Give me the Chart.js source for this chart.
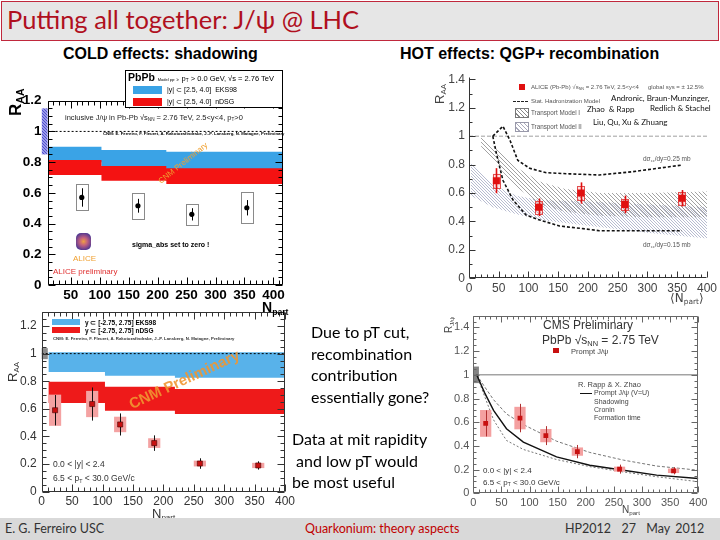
<!DOCTYPE html>
<html>
<head>
<meta charset="utf-8">
<script src="https://cdn.jsdelivr.net/npm/chart.js@4.4.1/dist/chart.umd.min.js"></script>
<style>
body { margin: 0; width: 720px; height: 540px; position: relative; overflow: hidden; background: #fff; font-family: "Liberation Sans", Arial, sans-serif; }
canvas { position: absolute; }
.t { position: absolute; white-space: nowrap; line-height: 1; }
.rot { transform: rotate(-90deg); transform-origin: left top; }
.slide { font-family: Lato, "Open Sans", sans-serif; }
sub { font-size: 0.62em; vertical-align: -0.3em; line-height: 0; }
#title { position: absolute; left: 1px; top: 1px; width: 718px; height: 40px; box-sizing: border-box; border: 1px solid #c0283c; background: #e6e6e6; }
#footer { position: absolute; left: 0; top: 518px; width: 720px; height: 22px; background: #d9d9d9; }
.sw { position: absolute; }
</style>
</head>
<body>
<div id="title"></div>
<div class="t slide" style="left:7px;top:7px;font-size:25.5px;color:#b0101e;">Putting all together: J/ψ @ LHC</div>
<div class="t" style="left:63px;top:45px;font:bold 16px 'Liberation Sans';">COLD effects: shadowing</div>
<div class="t" style="left:400px;top:45px;font:bold 16px 'Liberation Sans';">HOT effects: QGP+ recombination</div>

<canvas id="c1"></canvas>
<canvas id="c2"></canvas>
<canvas id="c3"></canvas>
<canvas id="c4"></canvas>

<!-- panel 1 overlays -->
<div class="sw" style="left:125px;top:70px;width:158px;height:38px;border:1px solid #000;background:#fff;box-sizing:border-box;"></div>
<div class="t" style="left:128px;top:71px;font:bold 10.5px 'Liberation Sans';">PbPb <span style="font:normal 4px 'Liberation Sans';">Model pp: ≥</span> <span style="font:normal 7.5px 'Liberation Sans';">p<sub>T</sub> &gt; 0.0 GeV, √s = 2.76 TeV</span></div>
<div class="sw" style="left:133px;top:86px;width:29px;height:8px;background:#3aa3e6;"></div>
<div class="t" style="left:167px;top:86px;font:7px 'Liberation Sans';">|y| ⊂ [2.5, 4.0]&nbsp; EKS98</div>
<div class="sw" style="left:133px;top:98px;width:29px;height:8px;background:#f01010;"></div>
<div class="t" style="left:167px;top:98px;font:7px 'Liberation Sans';">|y| ⊂ [2.5, 4.0]&nbsp; nDSG</div>
<div class="t" style="left:65px;top:113px;font:7.5px 'Liberation Sans';color:#222;">inclusive J/ψ in Pb-Pb √s<sub>NN</sub> = 2.76 TeV, 2.5&lt;y&lt;4, p<sub>T</sub>&gt;0</div>
<div class="t" style="left:103px;top:131px;font:bold 4.3px 'Liberation Sans';">CNM: E. Ferreiro, F. Fleuret, A. Rakotozafindrabe, J.-P. Lansberg, N. Matagne, Preliminary</div>
<div class="t" style="left:183px;top:163px;font:8px 'Liberation Sans';color:#f0a030;transform:translate(-50%,-50%) rotate(-39deg);">CNM Preliminary</div>
<div class="t" style="left:132px;top:241px;font:bold 7px 'Liberation Sans';">sigma_abs set to zero !</div>
<div class="sw" style="left:76px;top:233px;width:15px;height:17px;border-radius:5px;background:radial-gradient(circle,#f0a040 0,#c06080 35%,#5a3a90 75%,#2a4a9a 100%);"></div>
<div class="t" style="left:73px;top:254px;font:8px 'Liberation Sans';color:#f0a030;">ALICE</div>
<div class="t" style="left:53px;top:267px;font:8px 'Liberation Sans';color:#e03030;">ALICE preliminary</div>
<div class="t rot" style="left:6px;top:116px;font:bold 17px 'Liberation Sans';">R<sub>AA</sub></div>
<div class="t" style="left:262px;top:299px;font:bold 14px 'Liberation Sans';">N<sub>part</sub></div>

<!-- panel 2 overlays -->
<div class="sw" style="left:519px;top:84px;width:6px;height:6px;background:#e01010;"></div>
<div class="t" style="left:531px;top:84px;font:6px 'Liberation Sans';color:#555;">ALICE (Pb-Pb) √s<sub>NN</sub> = 2.76 TeV, 2.5&lt;y&lt;4</div>
<div class="t" style="left:648px;top:84px;font:6px 'Liberation Sans';color:#555;">global sys = ± 12.5%</div>
<div class="sw" style="left:513px;top:101px;width:15px;border-top:1.5px dashed #222;"></div>
<div class="t" style="left:531px;top:98px;font:6px 'Liberation Sans';color:#555;">Stat. Hadronization Model</div>
<div class="sw" style="left:515px;top:108px;width:12px;height:8px;border:1px solid #777;background:repeating-linear-gradient(45deg,#fff 0 2px,#888 2px 3px);"></div>
<div class="t" style="left:531px;top:109px;font:6.3px 'Liberation Sans';color:#555;">Transport Model I</div>
<div class="sw" style="left:515px;top:122px;width:12px;height:8px;border:1px solid #99a;background:repeating-linear-gradient(45deg,#fff 0 2px,#aab 2px 3px);"></div>
<div class="t" style="left:531px;top:123px;font:6.3px 'Liberation Sans';color:#555;">Transport Model II</div>
<div class="t slide" style="left:611px;top:94px;font-size:8px;color:#111;">Andronic, Braun-Munzinger,</div>
<div class="t slide" style="left:650px;top:104px;font-size:8px;color:#111;">Redlich &amp; Stachel</div>
<div class="t slide" style="left:587px;top:105px;font-size:8px;color:#111;">Zhao &nbsp;&amp; Rapp</div>
<div class="t slide" style="left:593px;top:118px;font-size:8px;color:#111;">Liu, Qu, Xu &amp; Zhuang</div>
<div class="t" style="left:643px;top:155px;font:6.5px 'Liberation Sans';color:#555;">dσ<sub>cc</sub>/dy=0.25 mb</div>
<div class="t" style="left:643px;top:241px;font:6.5px 'Liberation Sans';color:#555;">dσ<sub>cc</sub>/dy=0.15 mb</div>
<div class="t rot" style="left:432px;top:104px;font:13px 'Liberation Sans';color:#444;">R<sub>AA</sub></div>
<div class="t" style="left:670px;top:291px;font:12px 'DejaVu Sans';color:#444;">⟨N<sub>part</sub>⟩</div>

<!-- panel 3 overlays -->
<div class="sw" style="left:52px;top:319px;width:28px;height:6px;background:#58b2ea;"></div>
<div class="t" style="left:85px;top:319px;font:bold 6.5px 'Liberation Sans';">y ⊂ [-2.75, 2.75] EKS98</div>
<div class="sw" style="left:52px;top:327px;width:28px;height:6px;background:#ee1a1a;"></div>
<div class="t" style="left:85px;top:327px;font:bold 6.5px 'Liberation Sans';">y ⊂ [-2.75, 2.75] nDSG</div>
<div class="t" style="left:53px;top:336px;font:bold 4.3px 'Liberation Sans';color:#333;">CNM: E. Ferreiro, F. Fleuret, A. Rakotozafindrabe, J.-P. Lansberg, N. Matagne, Preliminary</div>
<div class="t" style="left:184px;top:379px;font:bold 15px 'Liberation Sans';color:rgba(240,150,50,0.9);transform:translate(-50%,-50%) rotate(-25deg);">CNM Preliminary</div>
<div class="t" style="left:53px;top:459px;font:8.5px 'Liberation Sans';color:#333;">0.0 &lt; |y| &lt; 2.4</div>
<div class="t" style="left:53px;top:473px;font:8.5px 'Liberation Sans';color:#333;">6.5 &lt; p<sub>T</sub> &lt; 30.0 GeV/c</div>
<div class="t" style="left:152px;top:506px;font:13px 'Liberation Sans';color:#333;">N<sub>part</sub></div>
<div class="t rot" style="left:5px;top:382px;font:13px 'Liberation Sans';color:#333;">R<sub>AA</sub></div>

<!-- panel 4 overlays -->
<div class="t" style="left:543px;top:318px;font:12px 'Liberation Sans';color:#333;">CMS Preliminary</div>
<div class="t" style="left:542px;top:333px;font:12px 'Liberation Sans';color:#333;">PbPb √s<sub>NN</sub> = 2.75 TeV</div>
<div class="sw" style="left:553px;top:348px;width:6px;height:5px;background:#c81010;"></div>
<div class="t" style="left:571px;top:347px;font:7.5px 'Liberation Sans';color:#444;">Prompt J/ψ</div>
<div class="t" style="left:578px;top:380px;font:7.5px 'Liberation Sans';color:#444;">R. Rapp &amp; X. Zhao</div>
<div class="sw" style="left:580px;top:393px;width:12px;border-top:1.3px solid #111;"></div>
<div class="t" style="left:594px;top:389px;font:7px 'Liberation Sans';color:#444;">Prompt J/ψ (V=U)</div>
<div class="t" style="left:594px;top:398px;font:7px 'Liberation Sans';color:#444;">Shadowing</div>
<div class="t" style="left:594px;top:406px;font:7px 'Liberation Sans';color:#444;">Cronin</div>
<div class="t" style="left:594px;top:414px;font:7px 'Liberation Sans';color:#444;">Formation time</div>
<div class="t" style="left:483px;top:466px;font:8px 'Liberation Sans';color:#333;">0.0 &lt; |y| &lt; 2.4</div>
<div class="t" style="left:483px;top:478px;font:8px 'Liberation Sans';color:#333;">6.5 &lt; p<sub>T</sub> &lt; 30.0 GeV/c</div>
<div class="t" style="left:622px;top:504px;font:10px 'Liberation Sans';color:#444;">N<sub>part</sub></div>
<div class="t rot" style="left:443px;top:333px;font:10px 'Liberation Sans';color:#444;">R<sub>J/ψ</sub></div>

<!-- middle text -->
<div class="t slide" style="left:311px;top:321px;font-size:16px;line-height:21.5px;">Due to pT cut,<br>recombination<br>contribution<br>essentially gone?</div>
<div class="t slide" style="left:292px;top:428px;font-size:16px;line-height:21.5px;">Data at mit rapidity<br>&nbsp;and low pT would<br>be most useful</div>

<div id="footer"></div>
<div class="t slide" style="left:5px;top:523px;font-size:12.5px;color:#333;">E. G. Ferreiro USC</div>
<div class="t slide" style="left:305px;top:523px;font-size:12.5px;color:#c00000;">Quarkonium: theory aspects</div>
<div class="t slide" style="left:565px;top:523px;font-size:12.5px;color:#333;word-spacing:2px;">HP2012&nbsp; 27&nbsp; May 2012</div>

<script>
// ---- top left: ALICE forward J/psi vs CNM shadowing ----
const fwdNpart = [69, 166, 259, 354];
const fwdRaa = [0.57, 0.516, 0.46, 0.503];
const fwdStat = [0.06, 0.045, 0.04, 0.05];
const fwdSys = [0.085, 0.085, 0.068, 0.1];
const fwdBinEdges = [11, 103, 215, 296, 417];
const fwdEksHi = [0.937, 0.90, 0.879, 0.868];
const fwdEksLo = [0.86, 0.80, 0.76, 0.75];
const fwdNdsgHi = [0.879, 0.814, 0.775, 0.76];
const fwdNdsgLo = [0.796, 0.716, 0.679, 0.658];
const fwdGlobal = [0.85, 1.15];

// ---- top right: ALICE vs recombination models ----
const aliceNpart = [46, 117, 188, 262, 358];
const aliceRaa = [0.687, 0.50, 0.60, 0.52, 0.563];
const aliceStat = [0.088, 0.062, 0.075, 0.062, 0.058];
const aliceSys = [0.05, 0.045, 0.05, 0.04, 0.045];
const shmHiNpart = [40, 57, 69, 82, 102, 130, 169, 219, 275, 358];
const shmHi = [1.0, 1.07, 0.97, 0.83, 0.774, 0.743, 0.735, 0.727, 0.75, 0.797];
const shmLoNpart = [40, 46, 57, 74, 96, 119, 152, 186, 219, 358];
const shmLo = [1.0, 0.88, 0.69, 0.551, 0.445, 0.41, 0.368, 0.352, 0.335, 0.335];
const tm1Npart = [20, 50, 80, 120, 160, 220, 300, 400];
const tm1Hi = [0.99, 0.9, 0.78, 0.68, 0.63, 0.6, 0.6, 0.61];
const tm1Lo = [0.93, 0.78, 0.64, 0.52, 0.47, 0.44, 0.43, 0.43];
const tm2Npart = [3, 40, 80, 120, 200, 300, 400];
const tm2Hi = [0.81, 0.66, 0.58, 0.55, 0.54, 0.52, 0.5];
const tm2Lo = [0.58, 0.5, 0.45, 0.41, 0.37, 0.32, 0.28];

// ---- bottom: CMS prompt J/psi, high pT ----
const cmsNpart = [22, 83, 129, 185, 260, 356];
const cmsRaa = [0.59, 0.635, 0.487, 0.352, 0.204, 0.19];
const cmsStat = [0.11, 0.12, 0.08, 0.056, 0.038, 0.03];
const cmsSys = [0.113, 0.095, 0.056, 0.035, 0.021, 0.019];
const cmsGlobal = [0.93, 1.07];
const midBinEdges = [11, 104, 219, 307, 400];
const midEksHi = [1.01, 1.01, 1.01, 1.01];
const midEksLo = [0.915, 0.867, 0.839, 0.825];
const midNdsgHi = [0.855, 0.796, 0.76, 0.744];
const midNdsgLo = [0.737, 0.642, 0.587, 0.563];
const rzNpart = [6, 20, 36, 59, 89, 148, 207, 267, 326, 400];
const rzPrompt = [1.0, 0.85, 0.70, 0.545, 0.432, 0.307, 0.237, 0.195, 0.153, 0.125];
const rzUpper = [1.0, 0.9, 0.79, 0.67, 0.58, 0.44, 0.345, 0.28, 0.23, 0.195];
const rzLower = [1.0, 0.82, 0.62, 0.446, 0.37, 0.285, 0.225, 0.18, 0.14, 0.098];

function pts(xs, ys) {
    return xs.map(function (x, i) { return { x: x, y: ys[i] }; });
}
function stepPts(edges, vals) {
    return edges.map(function (x, i) { return { x: x, y: vals[Math.min(i, vals.length - 1)] }; });
}
function hatch(color, size, bg) {
    const c = document.createElement("canvas");
    c.width = c.height = size;
    const g = c.getContext("2d");
    if (bg) {
        g.fillStyle = bg;
        g.fillRect(0, 0, size, size);
    }
    g.strokeStyle = color;
    g.lineWidth = 0.8;
    g.beginPath();
    g.moveTo(0, 0); g.lineTo(size, size);
    g.moveTo(-1, size - 1); g.lineTo(1, size + 1);
    g.moveTo(size - 1, -1); g.lineTo(size + 1, 1);
    g.stroke();
    return g.createPattern(c, "repeat");
}

// frame + inner ticks + global boxes
const decor = {
    id: "decor",
    beforeDatasetsDraw(chart, args, o) {
        const { ctx, scales: { x, y } } = chart;
        (o.boxes || []).forEach(function (b) {
            const x0 = x.getPixelForValue(b.x[0]), x1 = x.getPixelForValue(b.x[1]);
            const y0 = y.getPixelForValue(b.y[0]), y1 = y.getPixelForValue(b.y[1]);
            ctx.fillStyle = b.fill;
            ctx.fillRect(x0, y1, x1 - x0, y0 - y1);
        });
    },
    afterDraw(chart, args, o) {
        const { ctx, chartArea: a, scales: { x, y } } = chart;
        ctx.save();
        ctx.strokeStyle = o.color || "#000";
        ctx.lineWidth = 1;
        const L = Math.round(a.left) + 0.5, R = Math.round(a.right) - 0.5;
        const T = Math.round(a.top) + 0.5, B = Math.round(a.bottom) - 0.5;
        ctx.beginPath();
        if (o.frame) {
            ctx.rect(L, T, R - L, B - T);
        } else {
            ctx.moveTo(L, T); ctx.lineTo(L, B); ctx.lineTo(R, B);
        }
        const marks = function (scale, step, minor, fn) {
            const s = step / minor;
            for (let k = Math.ceil(scale.min / s - 1e-9); k * s <= scale.max + 1e-9; k++) {
                fn(Math.round(scale.getPixelForValue(k * s)) + 0.5, k % minor === 0 ? o.major : o.minor);
            }
        };
        marks(x, o.xStep, o.xMinor, function (p, len) {
            ctx.moveTo(p, B); ctx.lineTo(p, B - len);
            if (o.frame) { ctx.moveTo(p, T); ctx.lineTo(p, T + len); }
        });
        marks(y, o.yStep, o.yMinor, function (p, len) {
            ctx.moveTo(L, p); ctx.lineTo(L + len, p);
            if (o.frame) { ctx.moveTo(R, p); ctx.lineTo(R - len, p); }
        });
        ctx.stroke();
        ctx.restore();
    },
};

// systematic boxes + stat error bars, drawn just under the markers
const errs = {
    id: "errs",
    beforeDatasetDraw(chart, args) {
        const ds = chart.data.datasets[args.index];
        if (!ds.stat) return;
        const { ctx, scales: { x, y } } = chart;
        ctx.save();
        ds.data.forEach(function (p, i) {
            const px = x.getPixelForValue(p.x);
            const bx0 = x.getPixelForValue(p.x - ds.boxHalf), bx1 = x.getPixelForValue(p.x + ds.boxHalf);
            const by0 = y.getPixelForValue(p.y + ds.sys[i]), by1 = y.getPixelForValue(p.y - ds.sys[i]);
            if (ds.boxFill) {
                ctx.fillStyle = ds.boxFill;
                ctx.fillRect(bx0, by0, bx1 - bx0, by1 - by0);
            }
            if (ds.boxLine) {
                ctx.strokeStyle = ds.boxLine;
                ctx.lineWidth = 1;
                ctx.strokeRect(Math.round(bx0) + 0.5, Math.round(by0) + 0.5, Math.round(bx1 - bx0), Math.round(by1 - by0));
            }
            ctx.strokeStyle = ds.errColor;
            ctx.lineWidth = ds.errWidth || 1;
            ctx.beginPath();
            ctx.moveTo(Math.round(px) + 0.5, y.getPixelForValue(p.y + ds.stat[i]));
            ctx.lineTo(Math.round(px) + 0.5, y.getPixelForValue(p.y - ds.stat[i]));
            ctx.stroke();
        });
        ctx.restore();
    },
};

function fmt(v) {
    return Math.round(v * 10) / 10;
}

function panel(id, box, area, xr, yr, tickFont, tickColor, xPad, yPad, datasets, deco) {
    const cv = document.getElementById(id);
    cv.width = box[2];
    cv.height = box[3];
    cv.style.left = box[0] + "px";
    cv.style.top = box[1] + "px";
    const yWidth = area[0] - box[0];
    const xHeight = box[1] + box[3] - area[3];
    return new Chart(cv, {
        type: "line",
        data: { datasets: datasets },
        options: {
            responsive: false,
            animation: false,
            events: [],
            layout: { padding: { left: 0, bottom: 0, top: area[1] - box[1], right: box[0] + box[2] - area[2] } },
            elements: { point: { radius: 0 }, line: { tension: 0 } },
            scales: {
                x: {
                    type: "linear", min: xr[0], max: xr[1],
                    grid: { display: false, drawTicks: false }, border: { display: false },
                    ticks: { stepSize: 50, includeBounds: false, autoSkip: false, maxRotation: 0, font: tickFont, color: tickColor, padding: xPad, callback: fmt },
                    afterFit: function (s) { s.height = xHeight; },
                },
                y: {
                    type: "linear", min: yr[0], max: yr[1],
                    grid: { display: false, drawTicks: false }, border: { display: false },
                    ticks: { stepSize: 0.2, includeBounds: false, autoSkip: false, font: tickFont, color: tickColor, padding: yPad, callback: fmt },
                    afterFit: function (s) { s.width = yWidth; },
                },
            },
            plugins: { legend: { display: false }, tooltip: { enabled: false }, decor: deco },
        },
        plugins: [decor, errs],
    });
}

document.addEventListener("DOMContentLoaded", function () {
    // top left
    panel("c1", [0, 62, 300, 245], [47.6, 100.7, 283.3, 285], [10, 417], [0, 1.2],
        { family: "Liberation Sans", size: 13.5, weight: "bold" }, "#000", 2, 6,
        [
            {
                data: pts(fwdNpart, fwdRaa), showLine: false, order: 0,
                pointStyle: "circle", pointRadius: 2.6, pointBackgroundColor: "#000", pointBorderWidth: 0,
                stat: fwdStat, sys: fwdSys, boxHalf: 10, boxLine: "#8a8a8a", errColor: "#000",
            },
            { data: [{ x: 10, y: 1 }, { x: 417, y: 1 }], borderColor: "#000", borderWidth: 1, borderDash: [2, 2], order: 1 },
            { data: stepPts(fwdBinEdges, fwdNdsgHi), stepped: "after", borderWidth: 0, fill: "+1", backgroundColor: "#f41212", order: 2 },
            { data: stepPts(fwdBinEdges, fwdNdsgLo), stepped: "after", borderWidth: 0, order: 2 },
            { data: stepPts(fwdBinEdges, fwdEksHi), stepped: "after", borderWidth: 0, fill: "+1", backgroundColor: "#3aa3e6", order: 3 },
            { data: stepPts(fwdBinEdges, fwdEksLo), stepped: "after", borderWidth: 0, order: 3 },
        ],
        { frame: true, color: "#000", xStep: 50, xMinor: 5, yStep: 0.2, yMinor: 4, major: 7, minor: 4,
          boxes: [{ x: [0, 10], y: fwdGlobal, fill: hatch("#3a3ac8", 3, "#9a9ae8") }] });

    // top right
    panel("c2", [405, 62, 315, 245], [469, 76.5, 708.3, 278.3], [0, 400], [0, 1.42],
        { family: "Liberation Sans", size: 12 }, "#444", 3, 4,
        [
            {
                data: pts(aliceNpart, aliceRaa), showLine: false, order: 0,
                pointStyle: "rect", pointRadius: 5, pointBackgroundColor: "#e01010", pointBorderWidth: 0,
                stat: aliceStat, sys: aliceSys, boxHalf: 6, boxFill: "rgba(255,170,170,0.35)", boxLine: "#e05050",
                errColor: "#e01010", errWidth: 1.6,
            },
            { data: pts(shmHiNpart, shmHi), borderColor: "#111", borderWidth: 1.6, borderDash: [3, 2], order: 1 },
            { data: pts(shmLoNpart, shmLo), borderColor: "#111", borderWidth: 1.6, borderDash: [3, 2], order: 1 },
            { data: [{ x: 0, y: 1 }, { x: 400, y: 1 }], borderColor: "#888", borderWidth: 0.8, borderDash: [4, 2], order: 2 },
            { data: pts(tm1Npart, tm1Hi), borderWidth: 0, fill: "+1", backgroundColor: hatch("#8a8a8a", 4), order: 3 },
            { data: pts(tm1Npart, tm1Lo), borderWidth: 0, order: 3 },
            { data: pts(tm2Npart, tm2Hi), borderWidth: 0, fill: "+1", backgroundColor: hatch("#a4aac4", 3), order: 4 },
            { data: pts(tm2Npart, tm2Lo), borderWidth: 0, order: 4 },
        ],
        { frame: false, color: "#333", xStep: 50, xMinor: 5, yStep: 0.2, yMinor: 2, major: 6, minor: 3 });

    // bottom left
    panel("c3", [0, 300, 300, 220], [41.7, 309.3, 285, 491.7], [0, 400], [0, 1.3],
        { family: "Liberation Sans", size: 12 }, "#333", 3, 5,
        [
            {
                data: pts(cmsNpart, cmsRaa), showLine: false, order: 0,
                pointStyle: "rect", pointRadius: 3.6, pointBackgroundColor: "#c81010", pointBorderColor: "#400", pointBorderWidth: 0.6,
                stat: cmsStat, sys: cmsSys, boxHalf: 10, boxFill: "#f4a2a2", errColor: "#111",
            },
            { data: [{ x: 0, y: 1 }, { x: 400, y: 1 }], borderColor: "#000", borderWidth: 1, borderDash: [2, 2], order: 1 },
            { data: stepPts(midBinEdges, midNdsgHi), stepped: "after", borderWidth: 0, fill: "+1", backgroundColor: "#ee1a1a", order: 2 },
            { data: stepPts(midBinEdges, midNdsgLo), stepped: "after", borderWidth: 0, order: 2 },
            { data: stepPts(midBinEdges, midEksHi), stepped: "after", borderWidth: 0, fill: "+1", backgroundColor: "#58b2ea", order: 3 },
            { data: stepPts(midBinEdges, midEksLo), stepped: "after", borderWidth: 0, order: 3 },
        ],
        { frame: true, color: "#333", xStep: 50, xMinor: 5, yStep: 0.2, yMinor: 4, major: 7, minor: 4,
          boxes: [{ x: [0, 10], y: [0.96, 1.04], fill: "#8c8c8c" }] });

    // bottom right
    panel("c4", [445, 305, 275, 213], [473.3, 314, 698.3, 493.3], [0, 400], [0, 1.5],
        { family: "Liberation Sans", size: 11 }, "#555", 3, 4,
        [
            {
                data: pts(cmsNpart, cmsRaa), showLine: false, order: 0,
                pointStyle: "rect", pointRadius: 3.4, pointBackgroundColor: "#c81010", pointBorderWidth: 0,
                stat: cmsStat, sys: cmsSys, boxHalf: 10, boxFill: "#f4a0a0", errColor: "#b03030",
            },
            { data: pts(rzNpart, rzPrompt), borderColor: "#111", borderWidth: 1.4, order: 1 },
            { data: pts(rzNpart, rzUpper), borderColor: "#666", borderWidth: 0.9, borderDash: [3, 2], order: 1 },
            { data: pts(rzNpart, rzLower), borderColor: "#666", borderWidth: 0.9, borderDash: [2, 2], order: 1 },
            { data: [{ x: 0, y: 1 }, { x: 400, y: 1 }], borderColor: "#777", borderWidth: 1, order: 2 },
        ],
        { frame: true, color: "#666", xStep: 50, xMinor: 5, yStep: 0.2, yMinor: 4, major: 6, minor: 3,
          boxes: [{ x: [0, 10], y: cmsGlobal, fill: "rgba(90,90,90,0.75)" }] });
});
</script>
</body>
</html>
